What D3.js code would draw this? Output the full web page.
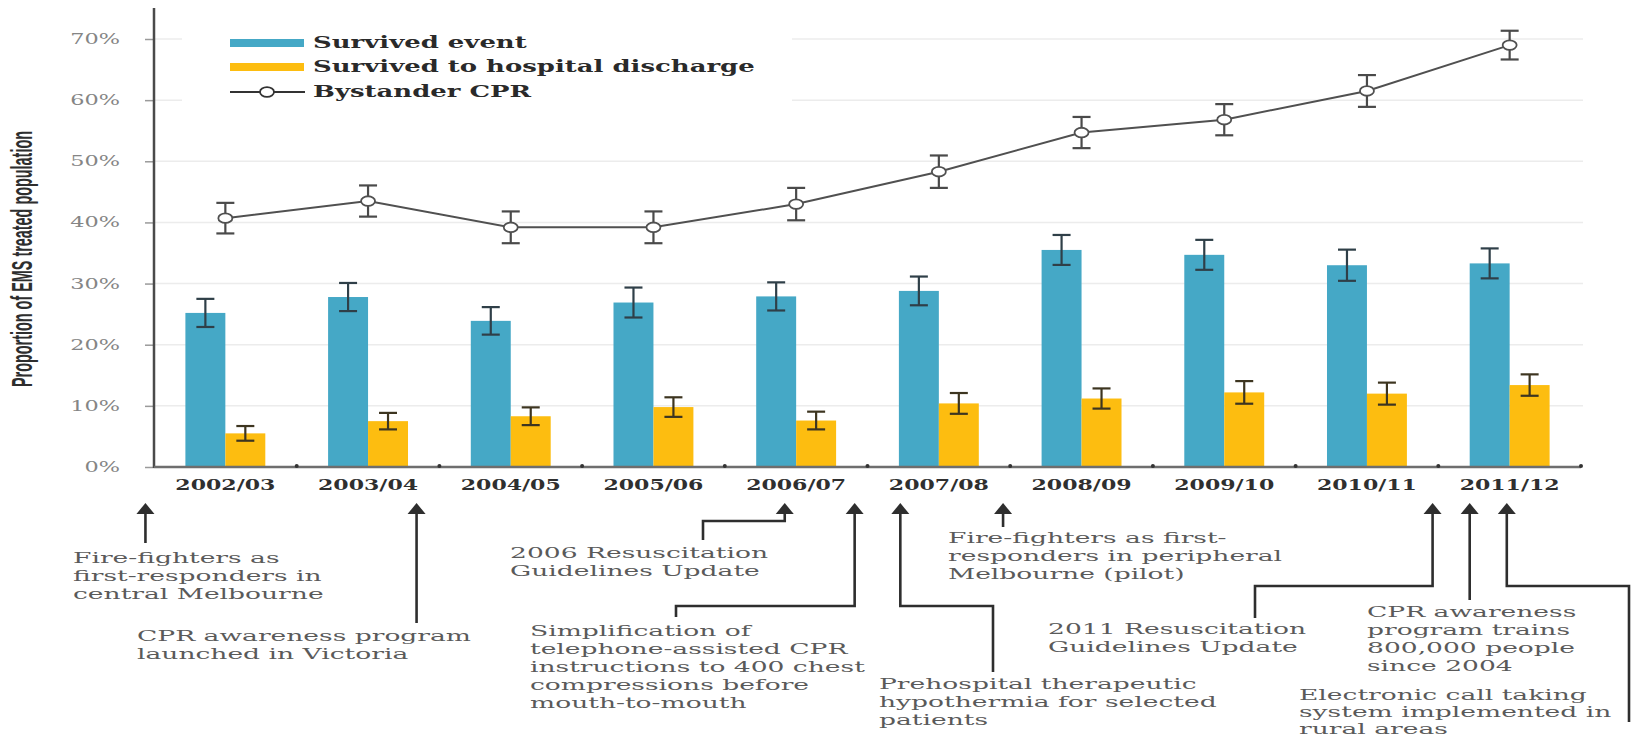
<!DOCTYPE html>
<html>
<head>
<meta charset="utf-8">
<script src="https://cdn.jsdelivr.net/npm/d3@7/dist/d3.min.js"></script>
<style>
  html, body { margin: 0; padding: 0; background: #ffffff; }
  svg { display: block; }
</style>
</head>
<body>
<svg id="chart" width="1635" height="740"></svg>
<script>
// ---- data ----
const years = ['2002/03', '2003/04', '2004/05', '2005/06', '2006/07',
               '2007/08', '2008/09', '2009/10', '2010/11', '2011/12'];
const survivedEvent        = [25.2, 27.8, 23.9, 26.9, 27.9, 28.8, 35.5, 34.7, 33.0, 33.3];
const survivedEventErr     = [2.3, 2.3, 2.25, 2.45, 2.3, 2.35, 2.45, 2.45, 2.55, 2.45];
const survivedDischarge    = [5.5, 7.5, 8.3, 9.8, 7.6, 10.4, 11.2, 12.2, 12.0, 13.4];
const survivedDischargeErr = [1.2, 1.35, 1.45, 1.6, 1.45, 1.7, 1.65, 1.85, 1.8, 1.75];
const bystanderCPR         = [40.7, 43.5, 39.2, 39.2, 43.0, 48.3, 54.7, 56.8, 61.5, 69.0];
const bystanderCPRErr      = [2.5, 2.55, 2.6, 2.6, 2.65, 2.65, 2.55, 2.55, 2.6, 2.35];
const yTicks = [0, 10, 20, 30, 40, 50, 60, 70];
const seriesNames = ['Survived event', 'Survived to hospital discharge', 'Bystander CPR'];

// timeline events: position along the year axis (0 = start of 2002/03) and label lines
const eventAt = [-0.06, 1.84, 4.42, 4.91, 5.23, 5.95, 8.96, 9.22, 9.48];
const eventText = [
  ['Fire-fighters as', 'first-responders in', 'central Melbourne'],
  ['CPR awareness program', 'launched in Victoria'],
  ['2006 Resuscitation', 'Guidelines Update'],
  ['Simplification of', 'telephone-assisted CPR', 'instructions to 400 chest', 'compressions before', 'mouth-to-mouth'],
  ['Prehospital therapeutic', 'hypothermia for selected', 'patients'],
  ['Fire-fighters as first-', 'responders in peripheral', 'Melbourne (pilot)'],
  ['2011 Resuscitation', 'Guidelines Update'],
  ['CPR awareness', 'program trains', '800,000 people', 'since 2004'],
  ['Electronic call taking', 'system implemented in', 'rural areas']
];

// ---- layout ----
const colors = { event: '#45a8c6', discharge: '#fdbd10', line: '#505050' };
const plot = { left: 154, right: 1581, top: 39, bottom: 467, axisTop: 8, gridRight: 1583 };
const serif = 'DejaVu Serif, Liberation Serif, serif';
const tipY = 503;        // arrow tips just below the year labels
const noteSize = 15, noteLead = 18;
// callout leader geometry: text anchor + path from text to arrow shaft
const calloutLayout = [
  { tx: 73,   ty: 563, tail: 543 },
  { tx: 137,  ty: 641, tail: 623 },
  { tx: 510,  ty: 558, elbow: [703, 540, 521] },
  { tx: 530,  ty: 636, elbow: [676, 617, 606] },
  { tx: 879,  ty: 689, elbow: [993, 672, 606] },
  { tx: 948,  ty: 543, tail: 527 },
  { tx: 1048, ty: 634, elbow: [1255, 618, 586] },
  { tx: 1367, ty: 617, tail: 600 },
  { tx: 1299, ty: 700, lead: 17, elbow: [1629, 722, 586] }
];

const svg = d3.select('#chart');

// natural text width, used to set the wide horizontal stretch of the type
function measure(str, size, weight) {
  const t = svg.append('text').attr('font-family', serif).attr('font-size', size)
    .attr('font-weight', weight || 'normal').text(str);
  const w = t.node().getComputedTextLength();
  t.remove();
  return w;
}
const noteSX = 288 / measure('Electronic call taking', noteSize);
const legendSize = 17.5;
const legendSX = 442 / measure('Survived to hospital discharge', legendSize, 'bold');

const x0 = d3.scaleBand().domain(years).range([plot.left, plot.right])
  .paddingInner(0.44).paddingOuter(0.22);
const x1 = d3.scaleBand().domain(['event', 'discharge']).range([0, x0.bandwidth()]);
const xTime = d3.scaleLinear().domain([0, years.length]).range([plot.left, plot.right]);
const y = d3.scaleLinear().domain([0, 70]).range([plot.bottom, plot.top]);
const cx = d => x0(d) + x0.bandwidth() / 2;

// gridlines
svg.append('g').selectAll('line').data(yTicks.filter(t => t > 0)).join('line')
  .attr('x1', plot.left + 1).attr('x2', plot.gridRight)
  .attr('y1', d => y(d)).attr('y2', d => y(d))
  .attr('stroke', '#ececec').attr('stroke-width', 1.5);

// legend background hides gridlines behind it
svg.append('rect').attr('x', 182).attr('y', 22).attr('width', 610).attr('height', 90)
  .attr('fill', '#ffffff');

// y axis
const yAxis = d3.axisLeft(y).tickValues(yTicks).tickSize(9).tickFormat('');
const gy = svg.append('g').attr('transform', `translate(${plot.left},0)`).call(yAxis);
gy.select('.domain').remove();
gy.selectAll('.tick line').attr('stroke', '#9a9a9a').attr('stroke-width', 1.5);
svg.append('line').attr('x1', plot.left).attr('x2', plot.left)
  .attr('y1', plot.axisTop).attr('y2', plot.bottom + 1)
  .attr('stroke', '#4a4a4a').attr('stroke-width', 2.5);

// y tick labels (wide serif)
svg.append('g').selectAll('text').data(yTicks).join('text')
  .attr('transform', d => `translate(120,${y(d) + 5}) scale(1.6,1)`)
  .attr('text-anchor', 'end')
  .attr('font-family', serif).attr('font-size', 14)
  .attr('fill', '#858585')
  .text(d => d + '%');

// y title
svg.append('text')
  .attr('transform', `translate(32,259) scale(1.75,1) rotate(-90)`)
  .attr('text-anchor', 'middle')
  .attr('font-family', 'Liberation Sans Narrow, Liberation Sans, sans-serif')
  .attr('font-weight', 'bold').attr('font-size', 17)
  .attr('textLength', 256).attr('lengthAdjust', 'spacingAndGlyphs')
  .attr('fill', '#2e2e2e')
  .text('Proportion of EMS treated population');

// bars
const groups = svg.append('g').selectAll('g').data(years).join('g')
  .attr('transform', d => `translate(${x0(d)},0)`);
groups.append('rect')
  .attr('x', x1('event')).attr('width', x1.bandwidth())
  .attr('y', (d, i) => y(survivedEvent[i]))
  .attr('height', (d, i) => y(0) - y(survivedEvent[i]))
  .attr('fill', colors.event);
groups.append('rect')
  .attr('x', x1('discharge')).attr('width', x1.bandwidth())
  .attr('y', (d, i) => y(survivedDischarge[i]))
  .attr('height', (d, i) => y(0) - y(survivedDischarge[i]))
  .attr('fill', colors.discharge);

function errorBar(g, xc, v, e, color) {
  const cap = 9;
  g.append('line').attr('x1', xc).attr('x2', xc).attr('y1', y(v + e)).attr('y2', y(v - e))
    .attr('stroke', color).attr('stroke-width', 2.2);
  [v + e, v - e].forEach(t => g.append('line')
    .attr('x1', xc - cap).attr('x2', xc + cap).attr('y1', y(t)).attr('y2', y(t))
    .attr('stroke', color).attr('stroke-width', 2.2));
}
const errG = svg.append('g');
years.forEach((yr, i) => {
  errorBar(errG, x0(yr) + x1('event') + x1.bandwidth() / 2, survivedEvent[i], survivedEventErr[i], '#2f3f48');
  errorBar(errG, x0(yr) + x1('discharge') + x1.bandwidth() / 2, survivedDischarge[i], survivedDischargeErr[i], '#3d3520');
});

// x axis
svg.append('line').attr('x1', plot.left).attr('x2', plot.right)
  .attr('y1', plot.bottom).attr('y2', plot.bottom)
  .attr('stroke', '#6e6e6e').attr('stroke-width', 2.5);
svg.append('g').selectAll('circle').data(years).join('circle')
  .attr('cx', d => x0(d) + x0.bandwidth() / 2 + x0.step() / 2)
  .attr('cy', plot.bottom - 1).attr('r', 2)
  .attr('fill', '#333');
svg.append('g').selectAll('text').data(years).join('text')
  .attr('x', d => cx(d)).attr('y', plot.bottom + 23)
  .attr('text-anchor', 'middle')
  .attr('font-family', serif).attr('font-weight', 'bold').attr('font-size', 15)
  .attr('textLength', 100).attr('lengthAdjust', 'spacingAndGlyphs')
  .attr('fill', '#2f2f2f')
  .text(d => d);

// bystander CPR line
const lineGen = d3.line().x((d, i) => cx(years[i])).y(d => y(d));
svg.append('path').datum(bystanderCPR).attr('d', lineGen)
  .attr('fill', 'none').attr('stroke', colors.line).attr('stroke-width', 2);
const lineErr = svg.append('g');
years.forEach((yr, i) => errorBar(lineErr, cx(yr), bystanderCPR[i], bystanderCPRErr[i], '#4a4a4a'));
svg.append('g').selectAll('ellipse').data(bystanderCPR).join('ellipse')
  .attr('cx', (d, i) => cx(years[i])).attr('cy', d => y(d))
  .attr('rx', 7).attr('ry', 4.8)
  .attr('fill', '#ffffff').attr('stroke', colors.line).attr('stroke-width', 1.8);

// legend
const legend = svg.append('g');
const legendRows = [43, 67, 92];
legend.append('rect').attr('x', 230).attr('y', legendRows[0] - 4).attr('width', 74).attr('height', 8)
  .attr('fill', colors.event);
legend.append('rect').attr('x', 230).attr('y', legendRows[1] - 4).attr('width', 74).attr('height', 8)
  .attr('fill', colors.discharge);
legend.append('line').attr('x1', 230).attr('x2', 305).attr('y1', legendRows[2]).attr('y2', legendRows[2])
  .attr('stroke', '#333').attr('stroke-width', 2);
legend.append('ellipse').attr('cx', 267).attr('cy', legendRows[2]).attr('rx', 7).attr('ry', 4.8)
  .attr('fill', '#fff').attr('stroke', '#333').attr('stroke-width', 1.8);
legend.selectAll('text').data(seriesNames).join('text')
  .attr('transform', (d, i) => `translate(313,${legendRows[i] + 5}) scale(${legendSX},1)`)
  .attr('font-family', serif).attr('font-weight', 'bold').attr('font-size', legendSize)
  .attr('fill', '#2a2a2a')
  .text(d => d);

// timeline callouts
const notes = svg.append('g');
function arrowHead(g, ax) {
  g.append('path')
    .attr('d', `M${ax},${tipY} L${ax - 9},${tipY + 11} L${ax + 9},${tipY + 11} Z`)
    .attr('fill', '#2e2e2e');
}
eventAt.forEach((t, i) => {
  const L = calloutLayout[i];
  const ax = xTime(t);
  let path;
  if (L.elbow) {
    const [ex, ey, hy] = L.elbow;
    path = `M${ex},${ey} L${ex},${hy} L${ax},${hy} L${ax},${tipY + 8}`;
  } else {
    path = `M${ax},${L.tail} L${ax},${tipY + 8}`;
  }
  notes.append('path').attr('d', path).attr('fill', 'none')
    .attr('stroke', '#2e2e2e').attr('stroke-width', 2.6);
  arrowHead(notes, ax);
  const lead = L.lead || noteLead;
  eventText[i].forEach((line, k) => {
    notes.append('text')
      .attr('transform', `translate(${L.tx},${L.ty + k * lead}) scale(${noteSX},1)`)
      .attr('font-family', serif).attr('font-size', noteSize)
      .attr('fill', '#5a5a5a')
      .text(line);
  });
});
</script>
</body>
</html>
